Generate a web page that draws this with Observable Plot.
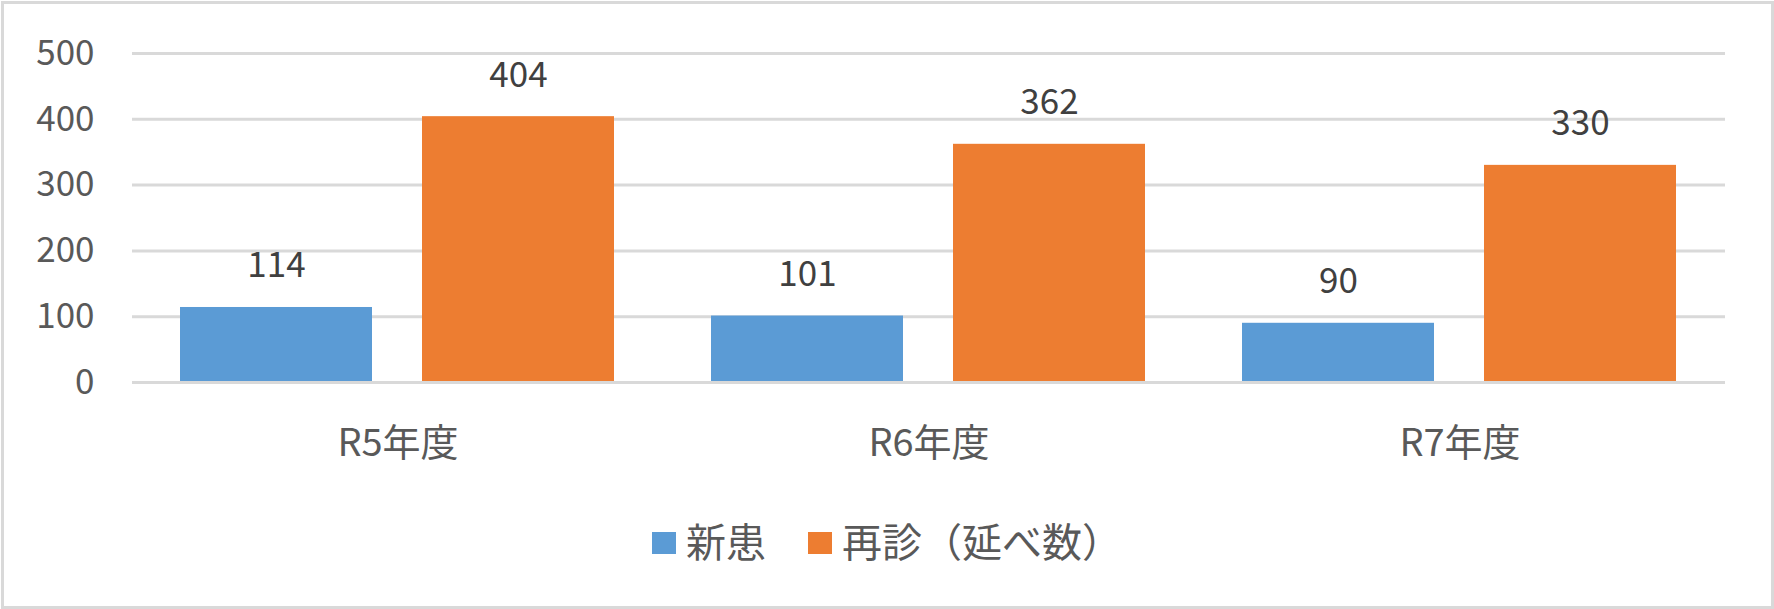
<!DOCTYPE html>
<html>
<head>
<meta charset="utf-8">
<script src="https://cdn.jsdelivr.net/npm/d3@7"></script>
<script src="https://cdn.jsdelivr.net/npm/@observablehq/plot@0.6"></script>
<style>
  html, body { margin: 0; padding: 0; background: #ffffff; }
  body { width: 1774px; height: 609px; position: relative; overflow: hidden;
         font-family: "Noto Sans CJK JP", "Noto Sans", sans-serif; }
  #frame { position: absolute; left: 1px; top: 1px; width: 1773px; height: 608px;
           box-sizing: border-box; border: 3px solid #d9d9d9; pointer-events: none; }
  #chart { position: absolute; left: 0; top: 0; }
  #legend { position: absolute; left: 0; top: 511px; width: 1774px; height: 58px;
            display: flex; justify-content: center; align-items: center;
            font-size: 40px; line-height: 58px; color: #595959; }
  .item { display: flex; align-items: center; margin: 0 21px; }
  .swatch { width: 24px; height: 22px; margin-right: 10px; position: relative; top: 3px; }
</style>
</head>
<body>
<div id="chart"></div>
<div id="legend"></div>
<div id="frame"></div>
<script>
const categories = ["R5年度", "R6年度", "R7年度"];
const series = ["新患", "再診（延べ数）"];
const newPatients = [114, 101, 90];
const revisits = [404, 362, 330];
const colors = ["#5B9BD5", "#ED7D31"];
const yTicks = [0, 100, 200, 300, 400, 500];

const seriesValues = [newPatients, revisits];
const data = [];
categories.forEach((c, i) => {
  series.forEach((s, j) => data.push({cat: c, series: s, value: seriesValues[j][i]}));
});

const chart = Plot.plot({
  width: 1774,
  height: 480,
  marginLeft: 131,
  marginRight: 49,
  marginTop: 53,
  marginBottom: 98,
  style: {fontFamily: '"Noto Sans CJK JP", "Noto Sans", sans-serif', background: "transparent"},
  fx: {domain: categories, paddingInner: 0, paddingOuter: 0, label: null},
  x: {domain: series, paddingInner: 0.2058, paddingOuter: 0.1955, axis: null},
  y: {domain: [0, 500], label: null},
  color: {domain: series, range: colors},
  marks: [
    Plot.gridY(yTicks, {stroke: "#d9d9d9", strokeWidth: 3, strokeOpacity: 1}),
    Plot.axisY(yTicks, {tickSize: 0, tickPadding: 38, fontSize: 35, fill: "#595959", label: null, tickFormat: d => String(d)}),
    Plot.barY(data, {fx: "cat", x: "series", y: "value", fill: "series"}),
    Plot.ruleY([0], {stroke: "#d9d9d9", strokeWidth: 3}),
    Plot.text(data, {fx: "cat", x: "series", y: "value", text: d => String(d.value),
      lineAnchor: "bottom", dy: -30, fontSize: 35, fill: "#404040"}),
    Plot.axisFx({anchor: "bottom", tickSize: 0, tickPadding: 47, fontSize: 38, fill: "#595959", label: null})
  ]
});
document.getElementById("chart").appendChild(chart);

const legend = document.getElementById("legend");
series.forEach((s, i) => {
  const item = document.createElement("div");
  item.className = "item";
  const sw = document.createElement("div");
  sw.className = "swatch";
  sw.style.background = colors[i];
  const label = document.createElement("span");
  label.textContent = s;
  item.appendChild(sw);
  item.appendChild(label);
  legend.appendChild(item);
});
</script>
</body>
</html>
